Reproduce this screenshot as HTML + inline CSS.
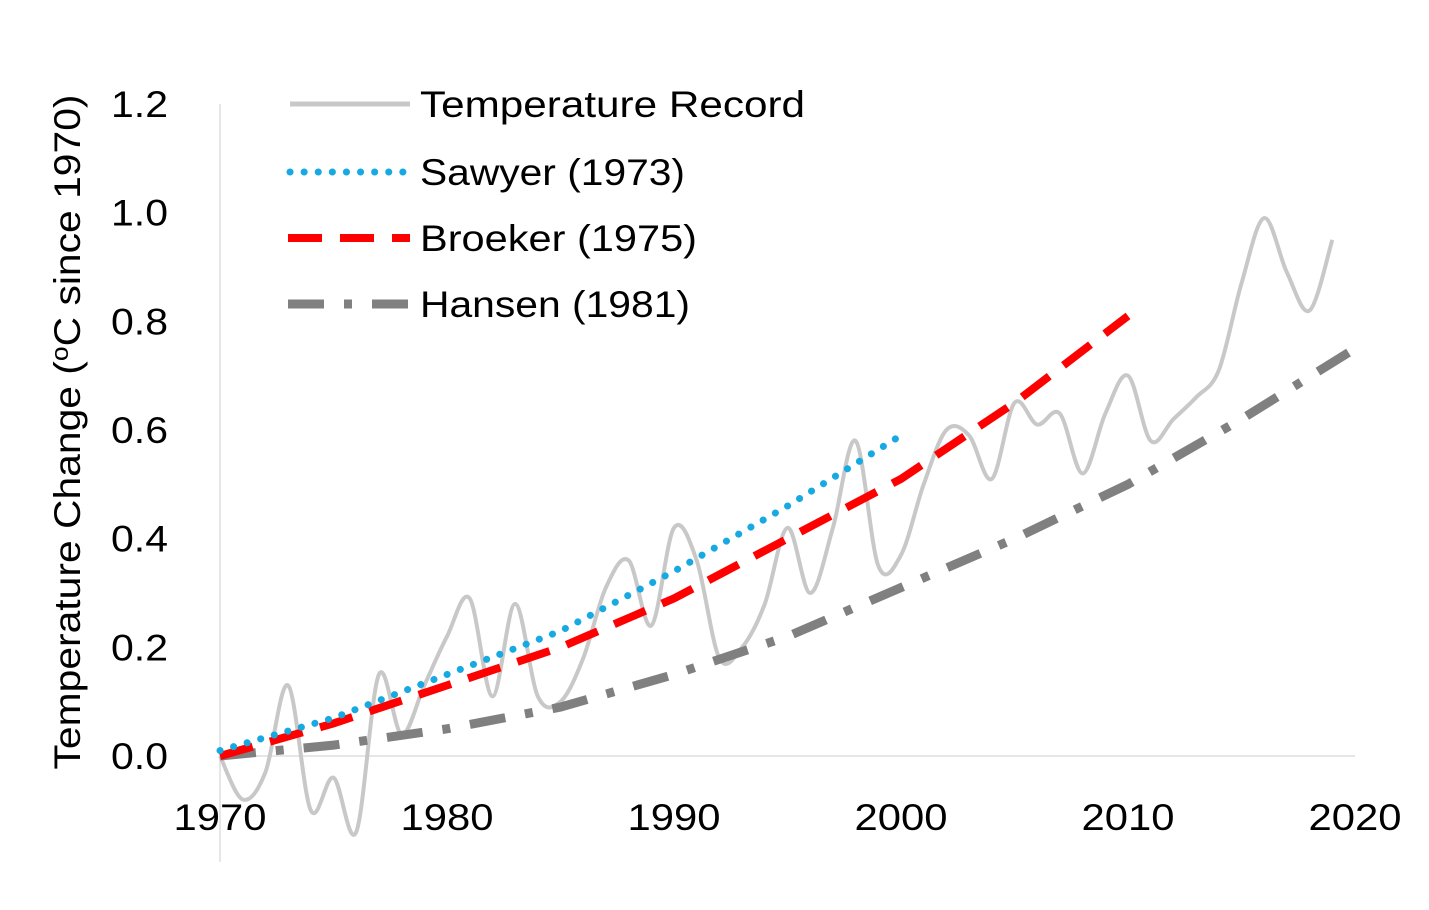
<!DOCTYPE html>
<html><head><meta charset="utf-8">
<style>
html,body{margin:0;padding:0;background:#fff;}
svg{display:block;font-family:"Liberation Sans",sans-serif;}
</style></head>
<body>
<svg id="chart" width="1429" height="910">
<line x1="220" y1="104" x2="220" y2="862" stroke="#e6e6e6" stroke-width="2"/>
<line x1="220" y1="756" x2="1355" y2="756" stroke="#e6e6e6" stroke-width="2"/>
<g id="yt"></g>
<g id="xt"></g>
<text transform="translate(80,432) rotate(-90)" text-anchor="middle" font-size="37" fill="#000" textLength="675" lengthAdjust="spacingAndGlyphs">Temperature Change (<tspan font-size="24" dy="-12">o</tspan><tspan dy="12">C since 1970)</tspan></text>
<g id="series"></g>
<g>
<g>
<line x1="290" y1="104" x2="410" y2="104" stroke="#c8c8c8" stroke-width="5"/>
<text x="420" y="117" font-size="37" textLength="385" lengthAdjust="spacingAndGlyphs">Temperature Record</text></g>
<g>
<line x1="290" y1="172" x2="410" y2="172" stroke="#17a9e1" stroke-width="7" stroke-linecap="round" stroke-dasharray="0.1 14"/>
<text x="420" y="185" font-size="37" textLength="265" lengthAdjust="spacingAndGlyphs">Sawyer (1973)</text></g>
<g>
<line x1="288" y1="238" x2="410" y2="238" stroke="#ff0000" stroke-width="8" stroke-dasharray="34 18"/>
<text x="420" y="251" font-size="37" textLength="277" lengthAdjust="spacingAndGlyphs">Broeker (1975)</text></g>
<g>
<line x1="288" y1="304" x2="410" y2="304" stroke="#808080" stroke-width="9" stroke-linecap="butt" stroke-dasharray="36 20 8 20"/>
<text x="420" y="317" font-size="37" textLength="270" lengthAdjust="spacingAndGlyphs">Hansen (1981)</text></g>
</g>
</svg>
<script>
const yTicks=["0.0","0.2","0.4","0.6","0.8","1.0","1.2"];
const yTickVals=[0,0.2,0.4,0.6,0.8,1.0,1.2];
const xTicks=[1970,1980,1990,2000,2010,2020];
const recYears=[1970,1971,1972,1973,1974,1975,1976,1977,1978,1979,1980,1981,1982,1983,1984,1985,1986,1987,1988,1989,1990,1991,1992,1993,1994,1995,1996,1997,1998,1999,2000,2001,2002,2003,2004,2005,2006,2007,2008,2009,2010,2011,2012,2013,2014,2015,2016,2017,2018,2019];
const recVals=[0.00,-0.08,-0.03,0.13,-0.10,-0.04,-0.14,0.15,0.04,0.13,0.22,0.29,0.11,0.28,0.11,0.10,0.18,0.31,0.36,0.24,0.42,0.36,0.18,0.20,0.28,0.42,0.30,0.42,0.58,0.35,0.37,0.50,0.60,0.59,0.51,0.65,0.61,0.63,0.52,0.63,0.70,0.58,0.62,0.66,0.71,0.87,0.99,0.89,0.82,0.95];
const sawyerYears=[1970,1975,1980,1985,1990,1995,2000];
const sawyerVals=[0.01,0.07,0.15,0.23,0.34,0.46,0.59];
const broekerYears=[1970,1975,1980,1985,1990,1995,2000,2005,2010];
const broekerVals=[0.00,0.06,0.13,0.20,0.29,0.40,0.51,0.65,0.81];
const hansenYears=[1970,1975,1980,1985,1990,1995,2000,2005,2010,2015,2020];
const hansenVals=[0.00,0.02,0.05,0.09,0.15,0.22,0.31,0.40,0.50,0.62,0.75];

const NS="http://www.w3.org/2000/svg";
const X=y=>220+(y-1970)*(1355-220)/50;
const Y=v=>756-v*(756-104)/1.2;
function mk(t,a,p){const e=document.createElementNS(NS,t);for(const k in a)e.setAttribute(k,a[k]);p.appendChild(e);return e;}
const yt=document.getElementById('yt'),xt=document.getElementById('xt'),sg=document.getElementById('series');
yTicks.forEach((s,i)=>{const t=mk('text',{x:168,y:Y(yTickVals[i])+13,'text-anchor':'end','font-size':37,textLength:57,lengthAdjust:'spacingAndGlyphs'},yt);t.textContent=s;

});
xTicks.forEach(v=>{const t=mk('text',{x:X(v),y:830,'text-anchor':'middle','font-size':37,textLength:93,lengthAdjust:'spacingAndGlyphs'},xt);t.textContent=v;

});
function smooth(xs,vs){const p=xs.map((x,i)=>[X(x),Y(vs[i])]);let d=`M${p[0][0]},${p[0][1]}`;
for(let i=0;i<p.length-1;i++){const p0=p[i-1]||p[i],p1=p[i],p2=p[i+1],p3=p[i+2]||p2;
d+=` C${p1[0]+(p2[0]-p0[0])/6},${p1[1]+(p2[1]-p0[1])/6} ${p2[0]-(p3[0]-p1[0])/6},${p2[1]-(p3[1]-p1[1])/6} ${p2[0]},${p2[1]}`;}return d;}
function poly(xs,vs){return xs.map((x,i)=>(i?'L':'M')+X(x)+','+Y(vs[i])).join(' ');}
const r=mk('path',{d:smooth(recYears,recVals),fill:'none',stroke:'#c8c8c8','stroke-width':4},sg);


const h=mk('path',{d:poly(hansenYears,hansenVals),fill:'none',stroke:'#808080','stroke-width':9,'stroke-dasharray':'36 20 8 20'},sg);


const b=mk('path',{d:poly(broekerYears,broekerVals),fill:'none',stroke:'#ff0000','stroke-width':8,'stroke-dasharray':'34 18'},sg);


const s=mk('path',{d:poly(sawyerYears,sawyerVals),fill:'none',stroke:'#17a9e1','stroke-width':7,'stroke-linecap':'round','stroke-dasharray':'0.1 14'},sg);


</script>
</body></html>
